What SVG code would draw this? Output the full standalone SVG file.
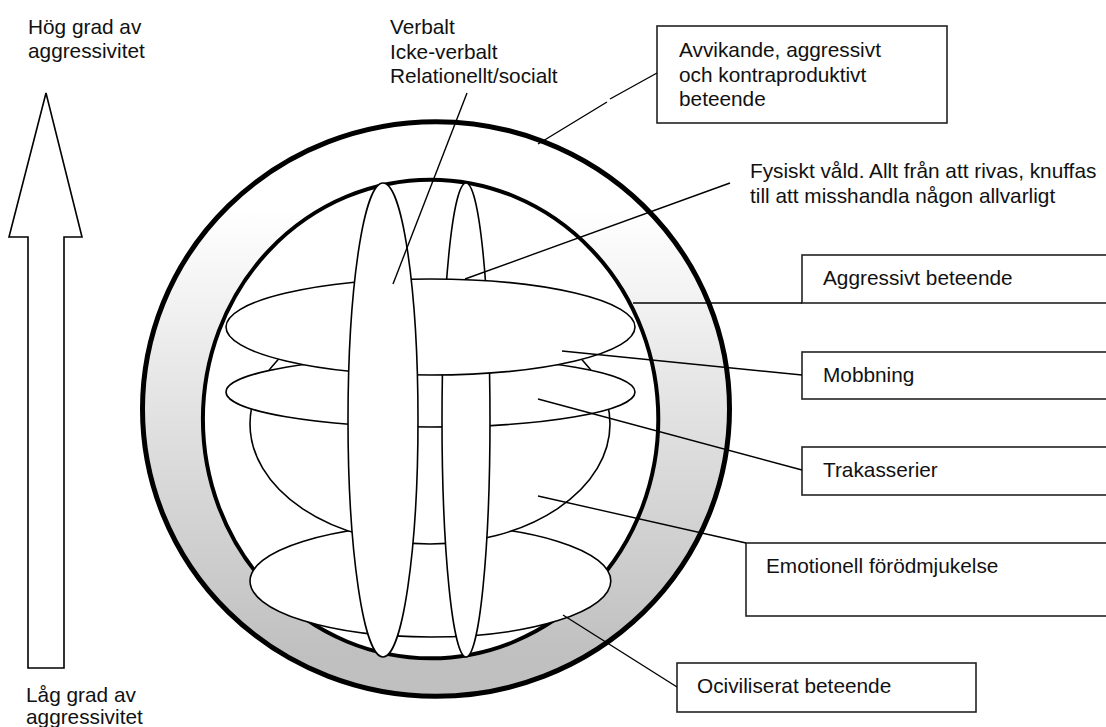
<svg xmlns="http://www.w3.org/2000/svg" width="1106" height="727" viewBox="0 0 1106 727">
<style>
  text { font-family: "Liberation Sans", Arial, sans-serif; font-size: 20.8px; fill: #111; }
  .box { fill: #fff; stroke: #222; stroke-width: 1.6; }
  .el { fill: #fff; stroke: #000; stroke-width: 1.6; }
  .lead { stroke: #000; stroke-width: 1.4; fill: none; }
</style>
<defs>
  <linearGradient id="ringGrad" gradientUnits="userSpaceOnUse" x1="0" y1="208" x2="0" y2="653">
    <stop offset="0" stop-color="#ffffff"/>
    <stop offset="1" stop-color="#c0c0c0"/>
  </linearGradient>
</defs>
<rect width="1106" height="727" fill="#fff"/>

<g id="scale-arrow">
  <polygon points="46,93 82,237 64,237 64,668 28,668 28,237 9,237" fill="#fff" stroke="#000" stroke-width="1.6" stroke-linejoin="miter"/>
</g>
<g id="label-high">
  <text x="28" y="34">Hög grad av</text>
  <text x="28" y="58">aggressivitet</text>
</g>
<g id="label-low">
  <text x="26" y="702">Låg grad av</text>
  <text x="26" y="724">aggressivitet</text>
</g>
<g id="label-verbal">
  <text x="390" y="34">Verbalt</text>
  <text x="390" y="59">Icke-verbalt</text>
  <text x="390" y="83">Relationellt/socialt</text>
</g>
<g id="label-fysiskt">
  <text x="750" y="178">Fysiskt våld. Allt från att rivas, knuffas</text>
  <text x="750" y="203">till att misshandla någon allvarligt</text>
</g>

<g id="outer-ring">
  <ellipse cx="436" cy="409" rx="293.5" ry="287.3" fill="url(#ringGrad)" stroke="#000" stroke-width="5"/>
</g>
<g id="inner-sphere">
  <ellipse cx="430.6" cy="419" rx="227.7" ry="239.3" fill="#fff" stroke="#000" stroke-width="4"/>
</g>
<g id="ellipse-bottom">
  <ellipse class="el" cx="430.4" cy="581" rx="180.4" ry="56"/>
</g>
<g id="ellipse-bowl">
  <ellipse class="el" cx="430" cy="424" rx="180" ry="120"/>
</g>
<g id="ellipse-second">
  <ellipse class="el" cx="430.5" cy="392" rx="204.5" ry="35"/>
</g>
<g id="vertical-small">
  <ellipse class="el" cx="466" cy="420" rx="24" ry="237"/>
</g>
<g id="ellipse-top">
  <ellipse class="el" cx="430.5" cy="327" rx="204.5" ry="48"/>
</g>
<g id="vertical-large">
  <ellipse class="el" cx="383" cy="420" rx="35" ry="237"/>
</g>

<g id="box-avvikande">
  <rect class="box" x="657" y="26" width="290" height="97"/>
  <text x="679" y="57">Avvikande, aggressivt</text>
  <text x="679" y="82">och kontraproduktivt</text>
  <text x="679" y="106">beteende</text>
</g>
<g id="box-aggressivt">
  <rect class="box" x="802" y="255" width="330" height="48"/>
  <text x="823" y="285">Aggressivt beteende</text>
</g>
<g id="box-mobbning">
  <rect class="box" x="802" y="352" width="330" height="47"/>
  <text x="823" y="382">Mobbning</text>
</g>
<g id="box-trakasserier">
  <rect class="box" x="802" y="447" width="330" height="48"/>
  <text x="823" y="477">Trakasserier</text>
</g>
<g id="box-emotionell">
  <rect class="box" x="746" y="543" width="380" height="73"/>
  <text x="766" y="573">Emotionell förödmjukelse</text>
</g>
<g id="box-ociviliserat">
  <rect class="box" x="677" y="663" width="299" height="49"/>
  <text x="697" y="693">Ociviliserat beteende</text>
</g>

<g id="connectors">
  <line class="lead" x1="467" y1="93" x2="393" y2="284"/>
  <path class="lead" d="M538,144 L607,102 M610,99 L657,73"/>
  <line class="lead" x1="730" y1="183" x2="465" y2="279"/>
  <line class="lead" x1="633" y1="303" x2="802" y2="303"/>
  <line class="lead" x1="562" y1="351" x2="802" y2="375"/>
  <line class="lead" x1="538" y1="399" x2="802" y2="470"/>
  <line class="lead" x1="538" y1="496" x2="746" y2="543"/>
  <line class="lead" x1="563" y1="615" x2="677" y2="687"/>
</g>
</svg>
